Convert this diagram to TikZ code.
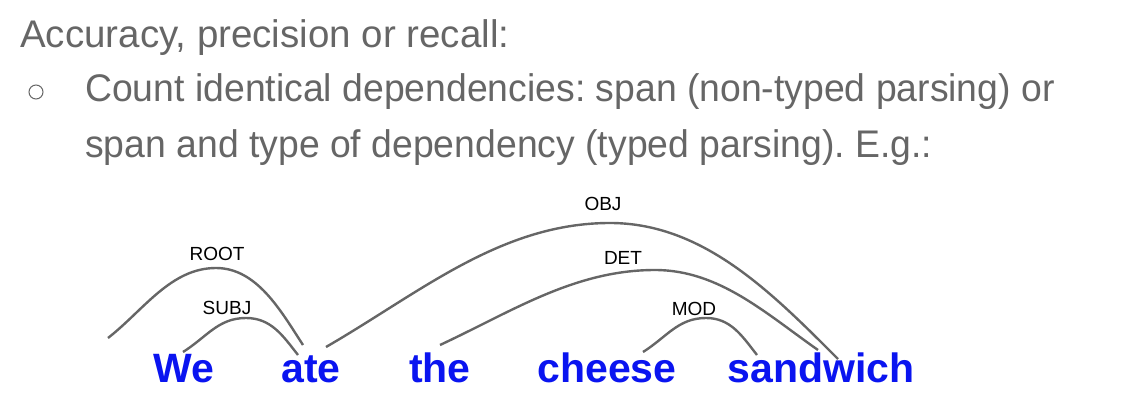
\documentclass[tikz,border=0pt]{standalone}
\usepackage{fontspec}
\setmainfont{Liberation Sans}
\newfontfamily\narrowsans{Liberation Sans}[FakeStretch=0.97]
\definecolor{txtgray}{HTML}{666666}
\definecolor{arcgray}{HTML}{666666}
\definecolor{wordblue}{HTML}{0A14F0}
\begin{document}
\frenchspacing
\begin{tikzpicture}[x=1pt,y=1pt,
  bodytext/.style={anchor=base west,inner sep=0pt,text=txtgray,font=\fontsize{38.5}{44}\selectfont},
  bodynarrow/.style={bodytext,font=\narrowsans\fontsize{38.5}{44}\selectfont},
  word/.style={anchor=base,inner sep=0pt,text=wordblue,font=\fontsize{41}{48}\selectfont\bfseries},
  deplabel/.style={inner sep=0pt,text=black,font=\fontsize{19}{22}\selectfont},
  arc/.style={draw=arcgray,line width=2.4pt}]
\useasboundingbox (0,0) rectangle (1130,408);
% text
\node[bodytext] (l1) at (20,360) {Accuracy, precision or recall:};
\node[draw=txtgray,line width=1pt,circle,minimum size=14pt,inner sep=0pt] (bul) at (36,316) {};
\node[bodynarrow] (l2) at (85,306) {Count identical dependencies: span (non-typed parsing) or};
\node[bodynarrow] (l3) at (85,251) {span and type of dependency (typed parsing). E.g.:};
% words
\node[word] (we) at (184,26) {We};
\node[word] (ate) at (311,26) {ate};
\node[word] (the) at (440,26) {the};
\node[word] (cheese) at (607,26) {cheese};
\node[word] (sandwich) at (821,26) {sandwich};
% arc ends
\coordinate (rootA) at (108,70);
\coordinate (rootP) at (216,140);
\coordinate (rootB) at (303,63);
\coordinate (subjA) at (183,56);
\coordinate (subjP) at (246,90);
\coordinate (subjB) at (298,53);
\coordinate (objA) at (326,61);
\coordinate (objP) at (610,185);
\coordinate (objB) at (838,49);
\coordinate (detA) at (440,63);
\coordinate (detP) at (655,138);
\coordinate (detB) at (818,58);
\coordinate (modA) at (643,56);
\coordinate (modP) at (706,90);
\coordinate (modB) at (757,53);
% arcs
\draw[arc] (rootA) to[out=38,in=180,looseness=0.9] (rootP) to[out=0,in=123,looseness=0.9] (rootB);
\draw[arc] (subjA) to[out=32,in=180] (subjP) to[out=0,in=128] (subjB);
\draw[arc] (objA) to[out=30,in=180,looseness=0.9] (objP) to[out=0,in=135,looseness=0.9] (objB);
\draw[arc] (detA) to[out=25,in=180,looseness=0.9] (detP) to[out=0,in=145,looseness=0.9] (detB);
\draw[arc] (modA) to[out=32,in=180] (modP) to[out=0,in=128] (modB);
% labels
\node[deplabel] (lroot) at (217,154) {ROOT};
\node[deplabel] (lsubj) at (227,100) {SUBJ};
\node[deplabel] (lobj) at (603,204) {OBJ};
\node[deplabel] (ldet) at (623,150) {DET};
\node[deplabel] (lmod) at (694,99) {MOD};
\end{tikzpicture}
\end{document}
